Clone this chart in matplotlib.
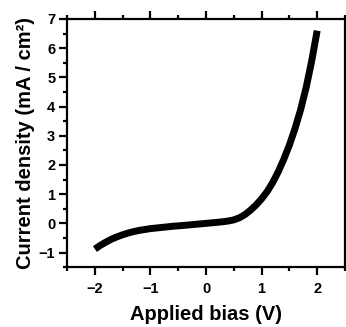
import numpy as np
import matplotlib.pyplot as plt
from matplotlib.ticker import MultipleLocator

# J-V curve
bias = [-2.0, -1.9, -1.8, -1.7, -1.6, -1.5, -1.4, -1.3, -1.2, -1.1, -1.0,
        -0.8, -0.6, -0.4, -0.2, 0.0, 0.2, 0.3, 0.4, 0.5, 0.6, 0.7, 0.8, 0.9,
        1.0, 1.1, 1.2, 1.3, 1.4, 1.5, 1.6, 1.7, 1.8, 1.9, 2.0]
current = [-0.88, -0.75, -0.64, -0.54, -0.46, -0.39, -0.33, -0.28, -0.24, -0.21, -0.18,
           -0.14, -0.10, -0.07, -0.035, 0.0, 0.035, 0.055, 0.08, 0.12, 0.19, 0.30, 0.45, 0.63,
           0.84, 1.09, 1.40, 1.77, 2.20, 2.68, 3.24, 3.88, 4.64, 5.55, 6.6]

plt.rcParams.update({
    "font.family": "Liberation Sans",
    "font.weight": "bold",
    "axes.linewidth": 1.6,
})

fig = plt.figure(figsize=(3.46, 3.27), dpi=100)
ax = fig.add_axes([0.194, 0.183, 0.803, 0.759])

ax.plot(bias, current, color='black', linewidth=5, solid_capstyle='butt',
        solid_joinstyle='round')

ax.set_xlim(-2.5, 2.5)
ax.set_ylim(-1.5, 7)
ax.xaxis.set_major_locator(MultipleLocator(1))
ax.xaxis.set_minor_locator(MultipleLocator(0.5))
ax.yaxis.set_major_locator(MultipleLocator(1))
ax.yaxis.set_minor_locator(MultipleLocator(0.5))
ax.tick_params(which='both', direction='out', top=True, right=False,
               width=1.6, labelsize=10.5)
ax.tick_params(which='major', length=5.5)
ax.tick_params(which='minor', length=3)
ax.tick_params(axis='x', pad=5)
ax.tick_params(axis='y', pad=3)

ax.set_xlabel("Applied bias (V)", fontsize=14.5, fontweight='bold', labelpad=7)
ax.set_ylabel("Current density (mA / cm²)", fontsize=14.5, fontweight='bold', labelpad=3)

plt.savefig("out.png", dpi=100)
